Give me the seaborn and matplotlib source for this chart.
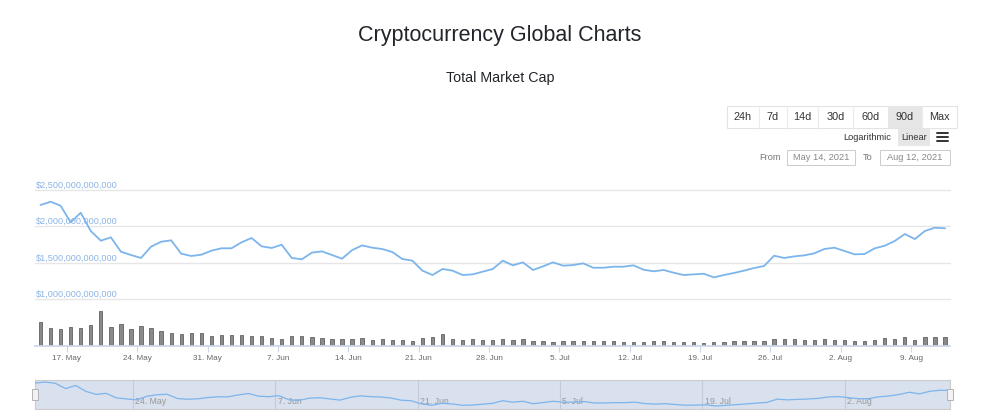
import numpy as np
import pandas as pd
import matplotlib
matplotlib.use("Agg")
import matplotlib.pyplot as plt
import matplotlib.dates as mdates
import matplotlib.patches as mpatches
import seaborn as sns

# daily snapshots, 14 May - 12 Aug 2021
dates = pd.date_range("2021-05-14 09:00", periods=91, freq="D")

# total market cap, billions of USD
market_cap_bn = [
    2290, 2335, 2280, 2052, 2184, 1933, 1800, 1846, 1649, 1604,
    1563, 1718, 1786, 1805, 1622, 1590, 1608, 1663, 1696, 1696,
    1778, 1837, 1723, 1700, 1745, 1563, 1545, 1636, 1654, 1604,
    1553, 1670, 1736, 1704, 1686, 1645, 1549, 1526, 1389, 1329,
    1412, 1389, 1329, 1338, 1375, 1412, 1526, 1462, 1503, 1398,
    1448, 1503, 1457, 1466, 1489, 1429, 1429, 1443, 1443, 1462,
    1402, 1380, 1398, 1361, 1329, 1338, 1347, 1297, 1329, 1357,
    1389, 1425, 1453, 1594, 1563, 1585, 1599, 1627, 1686, 1704,
    1659, 1613, 1617, 1695, 1731, 1796, 1892, 1823, 1933, 1979,
    1970,
]

# total volume, billions of USD (relative heights)
volume_bn = [
    280, 208, 196, 224, 216, 252, 416, 224, 260, 196,
    232, 216, 172, 156, 140, 148, 148, 112, 128, 124,
    124, 112, 120, 92, 84, 112, 120, 100, 92, 80,
    76, 80, 88, 72, 80, 72, 68, 56, 88, 108,
    136, 80, 72, 80, 72, 64, 80, 72, 80, 60,
    56, 48, 56, 56, 60, 60, 60, 52, 40, 40,
    48, 52, 52, 44, 40, 40, 36, 40, 44, 60,
    56, 56, 56, 80, 84, 80, 64, 64, 76, 64,
    64, 60, 56, 64, 88, 80, 100, 72, 100, 100,
    100,
]

cap_ticks_bn = [1000, 1500, 2000, 2500]
range_buttons = ["24h", "7d", "14d", "30d", "60d", "90d", "Max"]
active_button = "90d"
scale_buttons = ["Logarithmic", "Linear"]
date_from = "May 14, 2021"
date_to = "Aug 12, 2021"

df = pd.DataFrame({"date": dates, "cap": market_cap_bn, "vol": volume_bn})
df["x"] = mdates.date2num(df["date"])

LINE = "#7cb5ec"
LABEL_BLUE = "#8cb4e6"
GRID = "#e6e6e6"
AXIS = "#ccd6eb"

sns.set_theme(style="white")
plt.rcParams["font.family"] = ["Liberation Sans", "DejaVu Sans"]

W, H = 1000, 418
fig = plt.figure(figsize=(W / 100, H / 100), dpi=100)


def fx(x):
    return x / W


def fy(y):
    return 1 - y / H


def rect(x0, y0, x1, y1, **kw):
    fig.patches.append(mpatches.Rectangle((fx(x0), fy(y1)), fx(x1) - fx(x0), fy(y0) - fy(y1),
                                          transform=fig.transFigure, figure=fig, **kw))


# titles
fig.text(0.5, fy(35), "Cryptocurrency Global Charts", ha="center", va="center", fontsize=15.5, color="#212529")
fig.text(0.5, fy(78), "Total Market Cap", ha="center", va="center", fontsize=10.3, color="#212529")

# range selector buttons
edges = [727, 759, 787, 818, 853, 888, 922, 957]
rect(edges[0], 106, edges[-1], 128, facecolor="white", edgecolor="#e3e3e3", linewidth=0.8)
for i, lab in enumerate(range_buttons):
    if lab == active_button:
        rect(edges[i], 106, edges[i + 1], 128, facecolor="#e6e6e6", edgecolor="none")
    elif i > 0:
        fig.add_artist(plt.Line2D([fx(edges[i])] * 2, [fy(106), fy(128)], color="#ececec", lw=0.8))
    fig.text(fx((edges[i] + edges[i + 1]) / 2), fy(117), lab, ha="center", va="center", fontsize=7.8, color="#333333")

fig.text(fx(867), fy(137.5), scale_buttons[0], ha="center", va="center", fontsize=6.7, color="#333333")
rect(898, 129, 930, 146, facecolor="#e6e6e6", edgecolor="none")
fig.text(fx(914), fy(137.5), scale_buttons[1], ha="center", va="center", fontsize=6.7, color="#333333")
for yy in (133, 137, 141):
    fig.add_artist(plt.Line2D([fx(937), fx(948)], [fy(yy)] * 2, color="#333333", lw=1.4))

fig.text(fx(770), fy(157.5), "From", ha="center", va="center", fontsize=6.7, color="#777777")
rect(787, 150, 855, 165, facecolor="white", edgecolor="#cccccc", linewidth=0.7)
fig.text(fx(821), fy(157.5), date_from, ha="center", va="center", fontsize=6.7, color="#888888")
fig.text(fx(868), fy(157.5), "To", ha="center", va="center", fontsize=6.7, color="#777777")
rect(880, 150, 950, 165, facecolor="white", edgecolor="#cccccc", linewidth=0.7)
fig.text(fx(915), fy(157.5), date_to, ha="center", va="center", fontsize=6.7, color="#888888")

xmin = df["x"].iloc[0] - 0.55
xmax = df["x"].iloc[-1] + 0.5

# market cap panel
ax = fig.add_axes([fx(35), fy(299), fx(950) - fx(35), fy(189.7) - fy(299)])
sns.lineplot(data=df, x="x", y="cap", ax=ax, color=LINE, linewidth=1.3, zorder=5)
ax.set_xlim(xmin, xmax)
ax.set_ylim(cap_ticks_bn[0], cap_ticks_bn[-1])
ax.set_yticks(cap_ticks_bn)
ax.grid(axis="y", color=GRID, linewidth=1)
for gl in ax.get_ygridlines():
    gl.set_clip_on(False)
ax.tick_params(left=False, bottom=False, labelleft=False, labelbottom=False)
ax.set_xlabel("")
ax.set_ylabel("")
sns.despine(ax=ax, left=True, bottom=True)
for v in cap_ticks_bn:
    ax.text(0.001, v, f"${v * 1_000_000_000:,}", transform=ax.get_yaxis_transform(),
            ha="left", va="bottom", fontsize=6.6, color=LABEL_BLUE, zorder=2)

# volume panel
axv = fig.add_axes([fx(35), fy(345.7), fx(950) - fx(35), fy(305) - fy(345.7)])
sns.barplot(data=df, x="x", y="vol", native_scale=True, width=0.33, color="#8a8a8a",
            saturation=1, edgecolor="#4d4d4d", linewidth=0.5, ax=axv)
axv.set_xlim(xmin, xmax)
axv.set_ylim(0, 490)
axv.set_xlabel("")
axv.set_ylabel("")
sns.despine(ax=axv, left=True)
axv.spines["bottom"].set_color(AXIS)
axv.tick_params(left=False, labelleft=False)
axv.xaxis.set_major_locator(mdates.WeekdayLocator(byweekday=mdates.MO))
axv.xaxis.set_major_formatter(mdates.DateFormatter("%-d. %b"))
axv.tick_params(axis="x", bottom=True, direction="out", length=4, width=0.8, color=AXIS,
                labelsize=5.9, labelcolor="#666666", pad=3)

# navigator
axn = fig.add_axes([fx(35), fy(409), fx(950) - fx(35), fy(380) - fy(409)])
axn.set_facecolor("#d9e0ee")
span = max(market_cap_bn) - min(market_cap_bn)
sns.lineplot(data=df, x="x", y="cap", ax=axn, color=LINE, linewidth=0.9, zorder=5)
axn.set_xlim(df["x"].iloc[0], df["x"].iloc[-1])
axn.set_ylim(min(market_cap_bn) - 0.125 * span, max(market_cap_bn) + 0.085 * span)
nav_ticks = mdates.date2num(pd.date_range("2021-05-24", "2021-08-12", freq="14D"))
axn.set_xticks(nav_ticks)
axn.grid(axis="x", color="#c3cad8", linewidth=0.8)
axn.grid(axis="y", visible=False)
axn.tick_params(left=False, bottom=False, labelleft=False, labelbottom=False)
axn.set_xlabel("")
axn.set_ylabel("")
for s in axn.spines.values():
    s.set_color("#cccccc")
    s.set_linewidth(0.8)
for t in nav_ticks:
    axn.text(t + 0.25, 0.12, mdates.num2date(t).strftime("%-d. %b"), transform=axn.get_xaxis_transform(),
             ha="left", va="bottom", fontsize=6.3, color="#999999")

# navigator handles
for hx in (35, 950):
    rect(hx - 3, 389, hx + 3, 400, facecolor="#f2f2f2", edgecolor="#b3b3b3", linewidth=0.7)

fig.savefig("out.png", dpi=100, facecolor="white")
